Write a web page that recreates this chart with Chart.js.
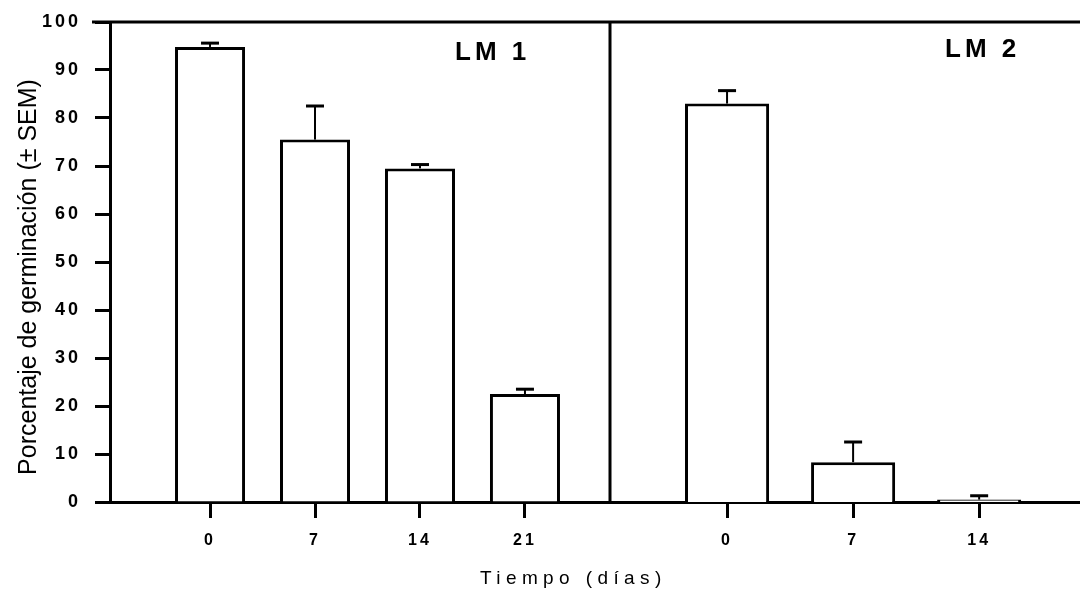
<!DOCTYPE html>
<html><head><meta charset="utf-8">
<script src="https://cdn.jsdelivr.net/npm/chart.js@4/dist/chart.umd.min.js"></script>
<style>
html,body{margin:0;padding:0;background:#fff;}
#wrap{position:relative;width:1080px;height:590px;background:#fff;}
canvas{position:absolute;left:0;top:0;}
</style></head><body>
<div id="wrap"><canvas id="a" width="1080" height="590"></canvas><canvas id="b" width="1080" height="590"></canvas></div>
<script>
// ---- data ----
const panels = ['LM 1', 'LM 2'];
const daysLM1 = [0, 7, 14, 21];
const germLM1 = [94.8, 75.5, 69.5, 22.5];
const semLM1 = [0.8, 7.0, 0.8, 1.0];
const daysLM2 = [0, 7, 14];
const germLM2 = [83.0, 8.3, 0.5];
const semLM2 = [2.7, 4.2, 0.8];
const yTicks = [0, 10, 20, 30, 40, 50, 60, 70, 80, 90, 100];
const yTitle = 'Porcentaje de germinación (± SEM)';
const xTitle = 'Tiempo (días)';

const FONT = '"Liberation Sans", Arial, Helvetica, sans-serif';
const BLACK = '#000';

function errorBars(chart, sems) {
  const ctx = chart.ctx, ys = chart.scales.y;
  const meta = chart.getDatasetMeta(0);
  const vals = chart.data.datasets[0].data;
  ctx.save();
  ctx.strokeStyle = BLACK;
  meta.data.forEach((bar, i) => {
    const top = ys.getPixelForValue(vals[i].y + sems[i]);
    ctx.lineWidth = 2;
    ctx.beginPath(); ctx.moveTo(bar.x, bar.y); ctx.lineTo(bar.x, top); ctx.stroke();
    ctx.lineWidth = 3;
    ctx.beginPath(); ctx.moveTo(bar.x - 9, top); ctx.lineTo(bar.x + 9, top); ctx.stroke();
  });
  ctx.restore();
}

const spacing = {
  id: 'spacing',
  beforeDraw(chart) { chart.ctx.letterSpacing = '3px'; },
};

const decoA = {
  id: 'decoA',
  afterDatasetsDraw(chart) { errorBars(chart, semLM1); },
  afterDraw(chart) {
    const ctx = chart.ctx, a = chart.chartArea;
    ctx.save();
    ctx.strokeStyle = BLACK; ctx.lineWidth = 3;
    ctx.beginPath(); ctx.moveTo(92, a.top); ctx.lineTo(a.right, a.top); ctx.stroke();
    ctx.fillStyle = BLACK;
    ctx.letterSpacing = '4px';
    ctx.font = 'bold 26px ' + FONT;
    ctx.textAlign = 'left'; ctx.textBaseline = 'alphabetic';
    ctx.fillText(panels[0], 455, 60);
    ctx.letterSpacing = '5.4px';
    ctx.font = '19px ' + FONT;
    ctx.fillText(xTitle, 480, 584);
    ctx.letterSpacing = '0px';
    ctx.font = '25px ' + FONT;
    ctx.translate(36, 277);
    ctx.rotate(-Math.PI / 2);
    ctx.textAlign = 'center';
    ctx.fillText(yTitle, 0, 0);
    ctx.restore();
    ctx.letterSpacing = '0px';
  }
};

const decoB = {
  id: 'decoB',
  afterDatasetsDraw(chart) { errorBars(chart, semLM2); },
  afterDraw(chart) {
    const ctx = chart.ctx, a = chart.chartArea;
    ctx.save();
    ctx.strokeStyle = BLACK; ctx.lineWidth = 3;
    ctx.beginPath(); ctx.moveTo(a.left, a.top); ctx.lineTo(1080, a.top); ctx.stroke();
    ctx.beginPath(); ctx.moveTo(a.left, a.top); ctx.lineTo(a.left, a.bottom); ctx.stroke();
    ctx.fillStyle = BLACK;
    ctx.letterSpacing = '4px';
    ctx.font = 'bold 26px ' + FONT;
    ctx.textAlign = 'left'; ctx.textBaseline = 'alphabetic';
    ctx.fillText(panels[1], 945, 57);
    ctx.restore();
    ctx.letterSpacing = '0px';
  }
};

function xScale(days, min, max) {
  return {
    type: 'linear', min: min, max: max, offset: false,
    grid: { display: true, drawOnChartArea: false, drawTicks: true, tickLength: 16, tickWidth: 3, tickColor: BLACK, offset: false },
    border: { display: true, color: BLACK, width: 3 },
    ticks: { color: BLACK, font: { family: FONT, size: 16, weight: 'bold' }, padding: 13, maxRotation: 0, autoSkip: false, callback: v => String(v) },
    afterBuildTicks: s => { s.ticks = days.map(v => ({ value: v })); },
    afterFit: s => { s.height = 88; s.paddingLeft = 0; s.paddingRight = 0; }
  };
}

function dataset(days, vals) {
  return {
    data: days.map((d, i) => ({ x: d, y: vals[i] })),
    backgroundColor: '#fff', borderColor: BLACK, borderWidth: 3,
    categoryPercentage: 1, barPercentage: 0.667
  };
}

const common = {
  responsive: false, animation: false, devicePixelRatio: 1, events: [],
  plugins: { legend: { display: false }, tooltip: { enabled: false } }
};

new Chart(document.getElementById('a'), {
  type: 'bar',
  data: { datasets: [dataset(daysLM1, germLM1)] },
  options: Object.assign({}, common, {
    layout: { padding: { top: 22, right: 470, bottom: 0, left: 0 } },
    scales: {
      x: xScale(daysLM1, -6.67, 26.67),
      y: {
        min: 0, max: 100,
        afterBuildTicks: s => { s.ticks = yTicks.map(v => ({ value: v })); },
        grid: { display: true, drawOnChartArea: false, drawTicks: true, tickLength: 15, tickWidth: 3, tickColor: BLACK },
        border: { display: true, color: BLACK, width: 3 },
        ticks: { color: BLACK, font: { family: FONT, size: 18, weight: 'bold' }, padding: 14 },
        afterFit: s => { s.width = 110; s.paddingTop = 0; s.paddingBottom = 0; }
      }
    }
  }),
  plugins: [spacing, decoA]
});

new Chart(document.getElementById('b'), {
  type: 'bar',
  data: { datasets: [dataset(daysLM2, germLM2)] },
  options: Object.assign({}, common, {
    layout: { padding: { top: 22, right: 0, bottom: 0, left: 610 } },
    scales: {
      x: xScale(daysLM2, -6.5, 19.6),
      y: { display: false, min: 0, max: 100 }
    }
  }),
  plugins: [spacing, decoB]
});
</script>
</body></html>
